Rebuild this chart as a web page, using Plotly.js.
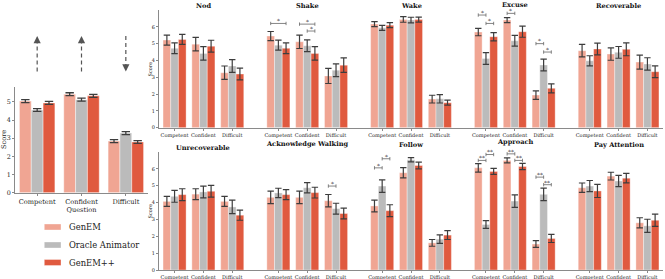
<!DOCTYPE html>
<html><head><meta charset="utf-8">
<script src="https://cdn.plot.ly/plotly-3.0.1.min.js"></script>
<style>html,body{margin:0;padding:0;background:#fff}#chart{width:665px;height:279px}</style>
</head><body><div id="chart"></div>
<script>
// ---------- data ----------
const seriesNames = ['GenEM', 'Oracle Animator', 'GenEM++'];
const seriesColors = ['#F0A593', '#BBBBBB', '#E05A3F'];

const overallCats = ['Competent', 'Confident<br>Question', 'Difficult'];
const overallDir = ['up', 'up', 'down'];
const overallGenEM = [5.04, 5.42, 2.84];
const overallOracle = [4.55, 5.12, 3.28];
const overallGenEMpp = [4.94, 5.33, 2.79];
const overallErrGenEM = [0.08, 0.08, 0.08];
const overallErrOracle = [0.08, 0.08, 0.08];
const overallErrGenEMpp = [0.08, 0.08, 0.08];

const levels = ['Competent', 'Confident', 'Difficult'];
const row1Behaviors = ['Nod', 'Shake', 'Wake', 'Excuse', 'Recoverable'];
const row2Behaviors = ['Unrecoverable', 'Acknowledge Walking', 'Follow', 'Approach', 'Pay Attention'];

// values per behavior: [Competent, Confident, Difficult]
const row1GenEM   = [[5.21,4.97,3.27],[5.45,5.11,3.08],[6.16,6.44,1.70],[5.69,6.40,1.94],[4.58,4.38,3.90]];
const row1Oracle  = [[4.72,4.42,3.67],[4.91,4.87,3.42],[5.94,6.40,1.72],[4.12,5.17,3.73],[3.98,4.48,3.79]];
const row1GenEMpp = [[5.25,4.85,3.19],[4.72,4.42,3.72],[6.10,6.43,1.49],[5.41,5.71,2.34],[4.68,4.66,3.33]];
const row1ErrGenEM   = [[0.30,0.40,0.40],[0.27,0.40,0.45],[0.15,0.17,0.23],[0.22,0.15,0.25],[0.37,0.37,0.42]];
const row1ErrOracle  = [[0.32,0.40,0.38],[0.30,0.35,0.38],[0.15,0.17,0.25],[0.35,0.32,0.35],[0.30,0.35,0.37]];
const row1ErrGenEMpp = [[0.30,0.35,0.35],[0.32,0.40,0.43],[0.15,0.15,0.15],[0.25,0.33,0.27],[0.35,0.38,0.35]];

const row2GenEM   = [[4.07,4.50,4.07],[4.31,4.31,4.11],[3.80,5.77,1.61],[6.06,6.50,1.54],[4.88,5.57,2.80]];
const row2Oracle  = [[4.37,4.63,3.74],[4.57,4.88,3.64],[4.98,6.54,1.83],[2.70,4.09,4.49],[4.98,5.28,2.62]];
const row2GenEMpp = [[4.47,4.67,3.25],[4.47,4.59,3.35],[3.52,6.20,2.07],[5.85,6.14,1.87],[4.69,5.45,2.95]];
const row2ErrGenEM   = [[0.30,0.32,0.30],[0.37,0.37,0.37],[0.35,0.30,0.20],[0.25,0.15,0.20],[0.28,0.23,0.30]];
const row2ErrOracle  = [[0.35,0.35,0.40],[0.28,0.30,0.32],[0.37,0.13,0.25],[0.23,0.37,0.37],[0.33,0.33,0.39]];
const row2ErrGenEMpp = [[0.35,0.35,0.30],[0.30,0.32,0.32],[0.35,0.20,0.26],[0.18,0.18,0.24],[0.39,0.28,0.36]];

// significance: [row, behavior, level, seriesA, seriesB, bracketHeight, label]
const sigMarks = [
  [0,1,0,0,2,6.20,'*'],[0,1,1,0,2,6.16,'*'],[0,1,1,1,2,5.75,'*'],
  [0,3,0,0,1,6.70,'*'],[0,3,0,1,2,6.20,'*'],[0,3,1,0,1,6.80,'*'],
  [0,3,2,0,1,5.00,'*'],[0,3,2,1,2,4.50,'*'],
  [1,1,2,0,1,4.98,'*'],[1,2,0,0,1,6.06,'*'],[1,2,0,1,2,6.60,'*'],
  [1,3,0,0,1,6.50,'**'],[1,3,0,1,2,6.85,'**'],[1,3,1,0,1,6.89,'**'],
  [1,3,1,1,2,6.50,'**'],[1,3,2,0,1,5.51,'**'],[1,3,2,1,2,5.06,'**']
];

// ---------- layout helpers ----------
const W = 665, H = 279;
const FONT = 'DejaVu Serif';
const px = v => v / W;
const py = v => 1 - v / H;
const PANEL_STEP = 3.6;     // spacing between behaviour blocks in group units
const BAR_W = 0.8 / 3;
const xPos = (p, g) => p * PANEL_STEP + g;
const barX = (p, g, s) => xPos(p, g) + (s - 1) * BAR_W;

const traces = [];
const overallVals = [overallGenEM, overallOracle, overallGenEMpp];
const overallErrs = [overallErrGenEM, overallErrOracle, overallErrGenEMpp];
const rowVals = [[row1GenEM,row1Oracle,row1GenEMpp],[row2GenEM,row2Oracle,row2GenEMpp]];
const rowErrs = [[row1ErrGenEM,row1ErrOracle,row1ErrGenEMpp],[row2ErrGenEM,row2ErrOracle,row2ErrGenEMpp]];

for (let s = 0; s < 3; s++) {
  traces.push({
    type: 'bar', x: overallCats, y: overallVals[s], name: seriesNames[s],
    xaxis: 'x', yaxis: 'y', showlegend: false,
    marker: {color: seriesColors[s], line: {color: 'rgba(255,255,255,0.7)', width: 0.6}},
    error_y: {type: 'data', array: overallErrs[s], color: '#3d3d3d', thickness: 1.3, width: 4.2},
    hoverinfo: 'skip'
  });
}
for (let r = 0; r < 2; r++) {
  for (let s = 0; s < 3; s++) {
    const xs = [], ys = [], es = [];
    rowVals[r][s].forEach((beh, p) => beh.forEach((v, g) => {
      xs.push(xPos(p, g)); ys.push(v); es.push(rowErrs[r][s][p][g]);
    }));
    traces.push({
      type: 'bar', x: xs, y: ys, name: seriesNames[s],
      xaxis: r === 0 ? 'x2' : 'x3', yaxis: r === 0 ? 'y2' : 'y3', showlegend: false,
      marker: {color: seriesColors[s], line: {color: 'rgba(255,255,255,0.7)', width: 0.5}},
      error_y: {type: 'data', array: es, color: '#3d3d3d', thickness: 1.2, width: 3.2},
      hoverinfo: 'skip'
    });
  }
}

const rowTickVals = [], rowTickText = [];
for (let p = 0; p < 5; p++) for (let g = 0; g < 3; g++) { rowTickVals.push(xPos(p, g)); rowTickText.push(levels[g]); }

const axisLine = {showline: true, linecolor: '#8a8a8a', linewidth: 1, zeroline: false, showgrid: false};
const rowX = dom => Object.assign({}, axisLine, {
  domain: dom, range: [-0.54, 16.94], tickmode: 'array', tickvals: rowTickVals, ticktext: rowTickText,
  ticks: 'outside', ticklen: 2, tickcolor: '#8a8a8a', tickangle: 0,
  tickfont: {family: FONT, size: 5, color: '#222'}
});
const rowY = (dom) => Object.assign({}, axisLine, {
  domain: dom, range: [0, 7], tickvals: [0,1,2,3,4,5,6], ticks: 'outside', ticklen: 2,
  tickcolor: '#8a8a8a', tickfont: {family: FONT, size: 5, color: '#222'}
});

const layout = {
  width: W, height: H, margin: {l: 0, r: 0, t: 0, b: 0},
  paper_bgcolor: '#fff', plot_bgcolor: '#fff',
  barmode: 'group', bargap: 0.2, bargroupgap: 0, showlegend: false,
  xaxis: Object.assign({}, axisLine, {
    domain: [px(15), px(148)], type: 'category', anchor: 'y',
    ticks: 'outside', ticklen: 2, tickcolor: '#8a8a8a',
    tickfont: {family: FONT, size: 6.6, color: '#222'}
  }),
  yaxis: Object.assign({}, axisLine, {
    domain: [py(192.7), py(87.3)], range: [0, 5.8], anchor: 'x',
    tickvals: [0,1,2,3,4,5], ticks: 'outside', ticklen: 2, tickcolor: '#8a8a8a',
    tickfont: {family: FONT, size: 6.4, color: '#222'}
  }),
  xaxis2: Object.assign(rowX([px(159), px(663)]), {anchor: 'y2'}),
  yaxis2: Object.assign(rowY([py(127.7), py(10)]), {anchor: 'x2'}),
  xaxis3: Object.assign(rowX([px(159), px(663)]), {anchor: 'y3'}),
  yaxis3: Object.assign(rowY([py(270), py(152)]), {anchor: 'x3'}),
  shapes: [], annotations: []
};

// panel titles
const titleYs = [[5.5, 5.5, 5.5, 5.2, 5.5], [147.7, 144.3, 145, 142.3, 145]];
[row1Behaviors, row2Behaviors].forEach((names, r) => names.forEach((n, p) => {
  layout.annotations.push({
    text: '<b>' + n + '</b>', xref: r === 0 ? 'x2' : 'x3', yref: 'paper',
    x: xPos(p, 1), y: py(titleYs[r][p]), showarrow: false, xanchor: 'center', yanchor: 'middle',
    borderpad: 0, font: {family: FONT, size: 6.6, color: '#111'}
  });
}));

// Score labels
[[149.5, 69], [149.5, 211], [4, 140]].forEach(([x, y], i) => {
  layout.annotations.push({
    text: 'Score', xref: 'paper', yref: 'paper', x: px(x), y: py(y), showarrow: false,
    textangle: -90, xanchor: 'center', yanchor: 'middle', borderpad: 0,
    font: {family: FONT, size: i < 2 ? 5 : 6.6, color: '#222'}
  });
});

// significance brackets
sigMarks.forEach(([r, p, g, a, b, h, lab]) => {
  const xr = r === 0 ? 'x2' : 'x3', yr = r === 0 ? 'y2' : 'y3';
  const xa = barX(p, g, a), xb = barX(p, g, b), t = 0.1;
  layout.shapes.push({
    type: 'path', xref: xr, yref: yr,
    path: `M${xa},${h - t}L${xa},${h + t}M${xa},${h}L${xb},${h}M${xb},${h - t}L${xb},${h + t}`,
    line: {color: '#666', width: 0.8}
  });
  layout.annotations.push({
    text: lab, xref: xr, yref: yr, x: (xa + xb) / 2, y: h, showarrow: false,
    xanchor: 'center', yanchor: 'bottom', yshift: -1.8, borderpad: 0,
    font: {family: FONT, size: 5.8, color: '#444'}
  });
});

// direction arrows above overall panel
overallDir.forEach((d, i) => {
  const top = 36, bot = 71.5;
  const tip = d === 'up' ? top : bot;
  const tailStart = d === 'up' ? bot : top;
  const tailEnd = d === 'up' ? top + 6 : bot - 6;
  layout.shapes.push({
    type: 'line', xref: 'x', yref: 'paper', x0: i, x1: i,
    y0: py(tailStart), y1: py(tailEnd), line: {color: '#555', width: 1.2, dash: '4px,3px'}
  });
  layout.annotations.push({
    text: '', xref: 'x', yref: 'paper', x: i, y: py(tip), showarrow: true,
    ax: 0, ay: d === 'up' ? 7 : -7, arrowhead: 2, arrowsize: 1.2, arrowwidth: 1.2, arrowcolor: '#555'
  });
});

// legend
const legY = [227, 245, 262.5];
seriesNames.forEach((n, s) => {
  layout.shapes.push({
    type: 'rect', xref: 'paper', yref: 'paper',
    x0: px(44.3), x1: px(61), y0: py(legY[s] + 3), y1: py(legY[s] - 3),
    fillcolor: seriesColors[s], line: {color: 'rgba(255,255,255,0.7)', width: 0.5}
  });
  layout.annotations.push({
    text: n, xref: 'paper', yref: 'paper', x: px(66.5), y: py(legY[s]), showarrow: false,
    xanchor: 'left', yanchor: 'middle', font: {family: FONT, size: 8.4, color: '#222'}
  });
});

Plotly.newPlot('chart', traces, layout, {staticPlot: true, displayModeBar: false});
</script></body></html>
